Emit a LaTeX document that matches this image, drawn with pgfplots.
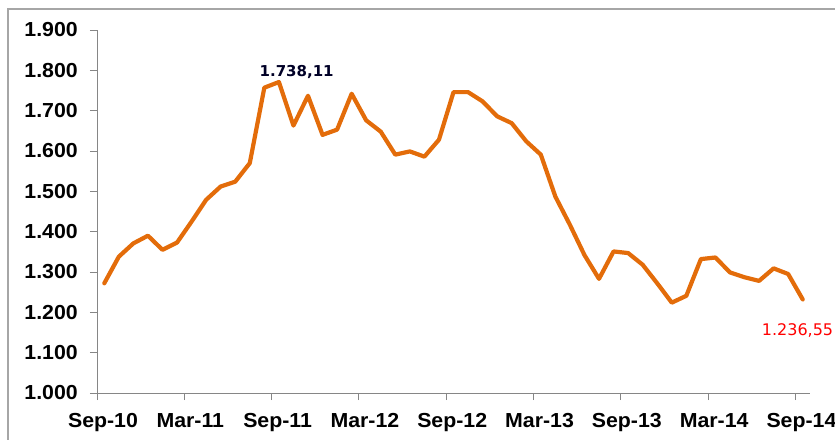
\documentclass[border=0pt]{standalone}
\usepackage{pgfplots}
\pgfplotsset{compat=1.18}
\usepackage{fontspec}
\setmainfont[FakeStretch=1.05]{Liberation Sans}
\newfontfamily\lblfont{DejaVu Sans}
\definecolor{lineorange}{HTML}{E36C0A}
\definecolor{axgray}{HTML}{868686}
\definecolor{framegray}{HTML}{A6A6A6}
\begin{document}
\begin{tikzpicture}[x=1pt,y=1pt]
\useasboundingbox (0,0) rectangle (835,439);
\draw[framegray, line width=1.6pt] (8,-20) -- (8,430) -- (860,430);
\begin{axis}[
  at={(97pt,46pt)}, anchor=south west,
  scale only axis, width=713pt, height=363pt,
  xmin=-0.5, xmax=48.5, ymin=1000, ymax=1900,
  axis x line*=bottom, axis y line*=left,
  axis line style={axgray, line width=1pt, -},
  tick style={axgray, line width=1pt},
  tick align=outside, major tick length=7pt,
  xtick={-0.5,5.5,11.5,17.5,23.5,29.5,35.5,41.5,47.5},
  xticklabels={Sep-10,Mar-11,Sep-11,Mar-12,Sep-12,Mar-13,Sep-13,Mar-14,Sep-14},
  ytick={1000,1100,...,1900},
  /pgf/number format/assume math mode=true,
  /pgf/number format/1000 sep={.},
  yticklabel style={font=\fontsize{20.3}{21}\selectfont\bfseries, inner sep=0pt, anchor=east, xshift=-12pt},
  xticklabel style={font=\fontsize{20.3}{21}\selectfont\bfseries, inner sep=0pt, anchor=north, xshift=6pt, yshift=-13pt},
  clip=false,
]
\addplot[lineorange, line width=4.2pt, line join=round, line cap=round] coordinates {
(0,1272) (1,1338) (2,1371) (3,1390) (4,1355) (5,1373) (6,1425) (7,1479)
(8,1512) (9,1524) (10,1570) (11,1757) (12,1771) (13,1663) (14,1737) (15,1640)
(16,1653) (17,1742) (18,1676) (19,1648) (20,1591) (21,1599) (22,1586) (23,1628)
(24,1746) (25,1746) (26,1723) (27,1686) (28,1669) (29,1624) (30,1591) (31,1487)
(32,1417) (33,1342) (34,1283) (35,1351) (36,1347) (37,1318) (38,1272) (39,1224)
(40,1241) (41,1332) (42,1336) (43,1299) (44,1287) (45,1278) (46,1309) (47,1295)
(48,1232)
};
\node[font=\lblfont\fontsize{15}{16}\selectfont\bfseries, text=black!85!blue, inner sep=0pt] at (axis cs:13.22,1797) {1.738,11};
\node[font=\lblfont\fontsize{16}{17}\selectfont, text=red, inner sep=0pt, anchor=west] at (axis cs:45.18,1156) {1.236,55};
\end{axis}
\end{tikzpicture}
\end{document}
